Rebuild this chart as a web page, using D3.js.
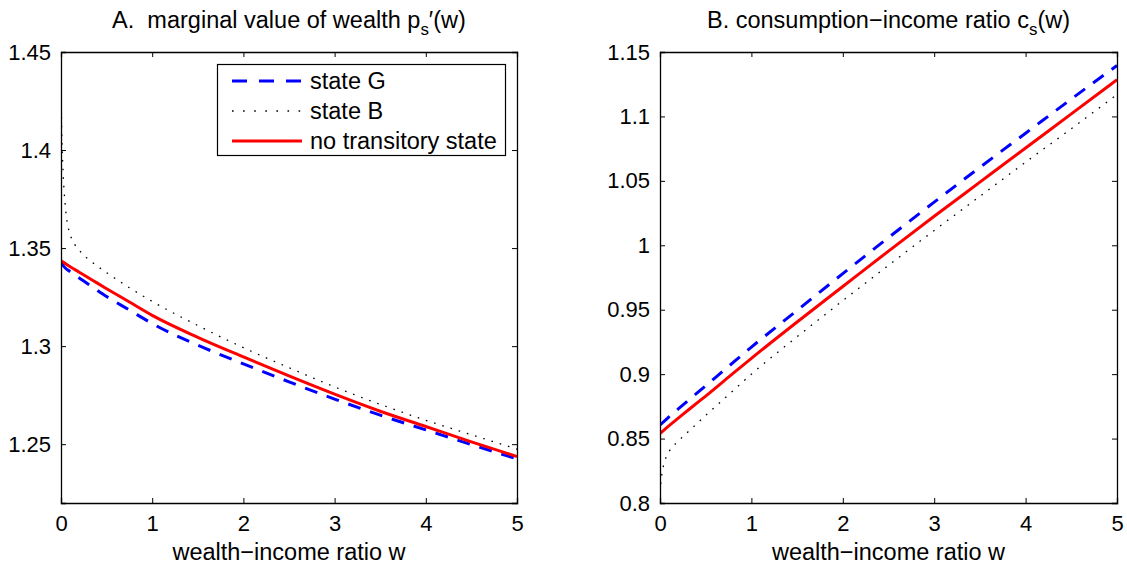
<!DOCTYPE html>
<html>
<head>
<meta charset="utf-8">
<script src="https://cdn.jsdelivr.net/npm/d3@7"></script>
<style>
  body { margin: 0; background: #fff; }
  svg { display: block; font-family: "Liberation Sans", Arial, Helvetica, sans-serif; }
</style>
</head>
<body>
<svg id="chart" width="1127" height="569"></svg>
<script>
// ---- data ----
const wealth = [0, 0.01, 0.02, 0.05, 0.1, 0.2, 0.35, 0.5, 0.75, 1, 1.5, 2, 2.5, 3, 3.5, 4, 4.5, 5];

// Panel A: marginal value of wealth p_s'(w)
const margG  = [1.3425, 1.342, 1.3413, 1.3397, 1.338, 1.3347, 1.330, 1.3253, 1.3184, 1.3115, 1.3005, 1.291, 1.2818, 1.273, 1.2648, 1.2573, 1.2498, 1.2425];
const margB  = [1.430, 1.405, 1.392, 1.370, 1.357, 1.349, 1.3425, 1.3375, 1.3298, 1.3228, 1.3105, 1.2992, 1.289, 1.2792, 1.2703, 1.2622, 1.2548, 1.2475];
const margNT = [1.3435, 1.3432, 1.343, 1.342, 1.3405, 1.3377, 1.3335, 1.3293, 1.3225, 1.3157, 1.3045, 1.2945, 1.2848, 1.2755, 1.2668, 1.259, 1.2512, 1.2437];

// Panel B: consumption-income ratio c_s(w)
const consG  = [0.8605, 0.8611, 0.8618, 0.8637, 0.867, 0.873, 0.882, 0.891, 0.906, 0.921, 0.9495, 0.978, 1.006, 1.0335, 1.0605, 1.087, 1.1135, 1.1395];
const consB  = [0.808, 0.816, 0.822, 0.832, 0.840, 0.848, 0.858, 0.868, 0.884, 0.900, 0.929, 0.957, 0.9845, 1.0115, 1.038, 1.0645, 1.0905, 1.117];
const consNT = [0.854, 0.8546, 0.8552, 0.857, 0.860, 0.8658, 0.8745, 0.883, 0.8977, 0.9123, 0.9405, 0.968, 0.9955, 1.0225, 1.049, 1.0755, 1.102, 1.1285];

const xTicks  = [0, 1, 2, 3, 4, 5];
const yTicksA = [1.25, 1.3, 1.35, 1.4, 1.45];
const yTicksB = [0.8, 0.85, 0.9, 0.95, 1, 1.05, 1.1, 1.15];
const legendLabels = ["state G", "state B", "no transitory state"];
const xLabel = "wealth\u2212income ratio w";

// ---- drawing ----
const svg = d3.select("#chart");
const FONT = 23.5;
const TICKFONT = 22;

const seriesStyle = [
  { color: "#0000ff", width: 3,   dash: "13,10" },
  { color: "#000000", width: 1.3, dash: "1.6,7" },
  { color: "#ff0000", width: 3,   dash: null }
];

function panel(opts) {
  const { left, right, top, bottom, yDomain, yTicks, series, id } = opts;
  const x = d3.scaleLinear().domain([0, 5]).range([left, right]);
  const y = d3.scaleLinear().domain(yDomain).range([bottom, top]);
  const g = svg.append("g");

  g.append("clipPath").attr("id", id).append("rect")
    .attr("x", left).attr("y", top).attr("width", right - left).attr("height", bottom - top);

  const line = d3.line().x(d => x(d[0])).y(d => y(d[1])).curve(d3.curveMonotoneX);
  const lg = g.append("g").attr("clip-path", `url(#${id})`);
  series.forEach((vals, i) => {
    const st = seriesStyle[i];
    lg.append("path")
      .datum(wealth.map((w, k) => [w, vals[k]]))
      .attr("d", line)
      .attr("fill", "none")
      .attr("stroke", st.color)
      .attr("stroke-width", st.width)
      .attr("stroke-dasharray", st.dash)
      .attr("stroke-linejoin", "round");
  });

  const tickLen = 5;
  const ax = [
    g.append("g").attr("transform", `translate(0,${bottom})`).call(d3.axisBottom(x).tickValues(xTicks).tickSize(-tickLen).tickPadding(12).tickFormat(d3.format("d"))),
    g.append("g").attr("transform", `translate(0,${top})`).call(d3.axisTop(x).tickValues(xTicks).tickSize(-tickLen).tickFormat("")),
    g.append("g").attr("transform", `translate(${left},0)`).call(d3.axisLeft(y).tickValues(yTicks).tickSize(-tickLen).tickPadding(10).tickFormat(d => String(+d.toFixed(2)))),
    g.append("g").attr("transform", `translate(${right},0)`).call(d3.axisRight(y).tickValues(yTicks).tickSize(-tickLen).tickFormat(""))
  ];
  ax.forEach(a => {
    a.select(".domain").attr("stroke", "#000").attr("stroke-width", 1.3);
    a.selectAll(".tick line").attr("stroke", "#000").attr("stroke-width", 1);
    a.selectAll("text").attr("font-size", TICKFONT).attr("fill", "#000").attr("font-family", "Liberation Sans, Arial, sans-serif");
  });
  ax[0].selectAll("text").attr("dy", "0.71em");

  g.append("text")
    .attr("x", (left + right) / 2).attr("y", 560)
    .attr("text-anchor", "middle").attr("font-size", FONT)
    .text(xLabel);

  return { x, y, g };
}

panel({ left: 61, right: 517, top: 52, bottom: 503, yDomain: [1.22, 1.45], yTicks: yTicksA, series: [margG, margB, margNT], id: "clipA" });
panel({ left: 660, right: 1117, top: 52, bottom: 503, yDomain: [0.8, 1.15], yTicks: yTicksB, series: [consG, consB, consNT], id: "clipB" });

function title(cx, parts) {
  const t = svg.append("text").attr("x", cx).attr("y", 28).attr("text-anchor", "middle").attr("font-size", FONT);
  parts.forEach(p => {
    const s = t.append("tspan").text(p.text);
    if (p.sub) s.attr("font-size", FONT * 0.72).attr("dy", 7);
    if (p.after) s.attr("dy", -7);
  });
}
title((61 + 517) / 2, [{ text: "A.\u00A0 marginal value of wealth p" }, { text: "s", sub: true }, { text: "\u2032(w)", after: true }]);
title((660 + 1117) / 2, [{ text: "B. consumption\u2212income ratio c" }, { text: "s", sub: true }, { text: "(w)", after: true }]);

const leg = svg.append("g");
leg.append("rect").attr("x", 217.5).attr("y", 64.5).attr("width", 288).attr("height", 91)
  .attr("fill", "#fff").attr("stroke", "#000").attr("stroke-width", 1.2);
legendLabels.forEach((lab, i) => {
  const yy = 81 + i * 30;
  const st = seriesStyle[i];
  leg.append("line").attr("x1", 232).attr("x2", 302).attr("y1", yy).attr("y2", yy)
    .attr("stroke", st.color).attr("stroke-width", st.width)
    .attr("stroke-dasharray", i === 0 ? "15,12" : (i === 1 ? "1.6,9.5" : null));
  leg.append("text").attr("x", 310).attr("y", yy).attr("dy", "0.35em")
    .attr("font-size", FONT).text(lab);
});
</script>
</body>
</html>
